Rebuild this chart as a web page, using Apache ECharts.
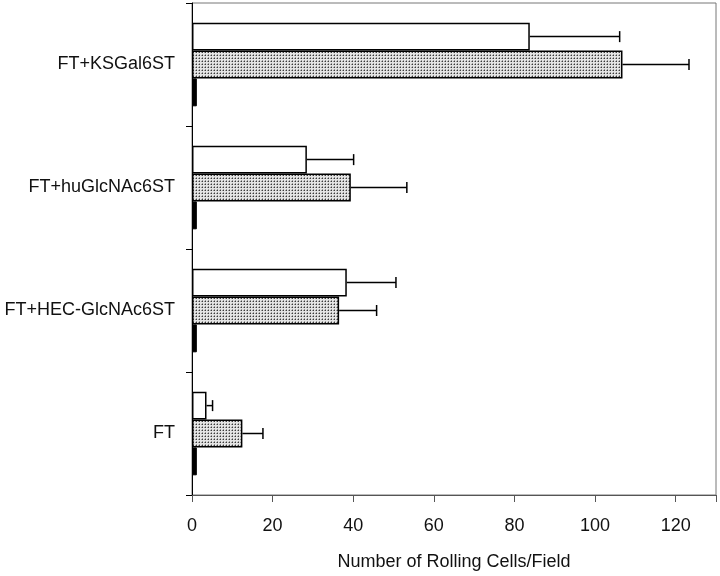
<!DOCTYPE html>
<html>
<head>
<meta charset="utf-8">
<script src="https://cdn.jsdelivr.net/npm/echarts@6/dist/echarts.min.js"></script>
<style>html,body{margin:0;padding:0;background:#fff}#c{width:720px;height:576px}</style>
</head>
<body>
<div id="c"></div>
<script>
var categories = ['FT', 'FT+HEC-GlcNAc6ST', 'FT+huGlcNAc6ST', 'FT+KSGal6ST'];
var whiteMean = [3.6, 38.4, 28.5, 83.8];
var whiteErr = [1.5, 12.2, 11.6, 22.3];
var dottedMean = [12.5, 36.5, 39.4, 106.8];
var dottedErr = [5.1, 9.3, 13.9, 16.5];
var blackMean = [1.2, 1.2, 1.2, 1.2];
var xTicks = [0, 20, 40, 60, 80, 100, 120];

var chart = echarts.init(document.getElementById('c'), null, {renderer: 'canvas'});

function makePattern() {
  var cv = document.createElement('canvas');
  cv.width = 3; cv.height = 3;
  var ctx = cv.getContext('2d');
  ctx.fillStyle = '#e4e4e4';
  ctx.fillRect(0, 0, 3, 3);
  ctx.fillStyle = '#3c3c3c';
  ctx.fillRect(1, 1, 1, 1);
  ctx.fillStyle = '#9a9a9a';
  ctx.fillRect(0, 1, 1, 1);
  ctx.fillRect(1, 0, 1, 1);
  return cv;
}
var pattern = {image: makePattern(), repeat: 'repeat'};

var CAT_GAP = 0.32;
function errRender(offsetIdx, means, errs) {
  return function (params, api) {
    var i = api.value(0);
    var base = api.coord([means[i], i]);
    var tip = api.coord([means[i] + errs[i], i]);
    var band = api.size([0, 1])[1];
    var bw = band * (1 - CAT_GAP) / 3;
    var y = base[1] + offsetIdx * bw;
    var cap = 5.5;
    return {
      type: 'group',
      children: [
        {type: 'line', shape: {x1: base[0], y1: y, x2: tip[0], y2: y}, style: {stroke: '#000', lineWidth: 1.5}},
        {type: 'line', shape: {x1: tip[0], y1: y - cap, x2: tip[0], y2: y + cap}, style: {stroke: '#000', lineWidth: 1.5}}
      ]
    };
  };
}

var option = {
  animation: false,
  backgroundColor: '#fff',
  grid: {left: 192, right: 4, top: 3, bottom: 79, show: true, borderColor: '#777', borderWidth: 1},
  xAxis: {
    type: 'value', min: 0, max: 130, interval: 20,
    axisLine: {show: true, lineStyle: {color: '#555', width: 1}},
    axisTick: {show: true, length: 7, lineStyle: {color: '#555'}},
    axisLabel: {
      margin: 22, fontSize: 18, color: '#111', fontFamily: 'Liberation Sans, Arial, sans-serif',
      formatter: function (v) { return xTicks.indexOf(v) >= 0 ? String(v) : ''; }
    },
    splitLine: {show: false},
    name: 'Number of Rolling Cells/Field', nameLocation: 'middle', nameGap: 58,
    nameTextStyle: {fontSize: 18, color: '#111', fontFamily: 'Liberation Sans, Arial, sans-serif'}
  },
  yAxis: {
    type: 'category', data: categories,
    axisLine: {show: true, lineStyle: {color: '#000', width: 1}},
    axisTick: {show: true, length: 6, lineStyle: {color: '#000'}},
    axisLabel: {margin: 17, fontSize: 18, color: '#111', fontFamily: 'Liberation Sans, Arial, sans-serif'},
    splitLine: {show: false}
  },
  series: [
    {
      name: 'white', type: 'bar', data: whiteMean, barGap: '0%', barCategoryGap: '32%',
      itemStyle: {color: '#fff', borderColor: '#000', borderWidth: 1.5}
    },
    {
      name: 'dotted', type: 'bar', data: dottedMean, barGap: '0%', barCategoryGap: '32%',
      itemStyle: {color: pattern, borderColor: '#000', borderWidth: 1.5}
    },
    {
      name: 'black', type: 'bar', data: blackMean, barGap: '0%', barCategoryGap: '32%',
      itemStyle: {color: '#000', borderColor: '#000', borderWidth: 1}
    },
    {
      type: 'custom', renderItem: errRender(-1, whiteMean, whiteErr),
      data: whiteMean.map(function (v, i) { return [i, v]; }), encode: {x: 1, y: 0}, z: 5
    },
    {
      type: 'custom', renderItem: errRender(0, dottedMean, dottedErr),
      data: dottedMean.map(function (v, i) { return [i, v]; }), encode: {x: 1, y: 0}, z: 5
    }
  ]
};
chart.setOption(option);
</script>
</body>
</html>
